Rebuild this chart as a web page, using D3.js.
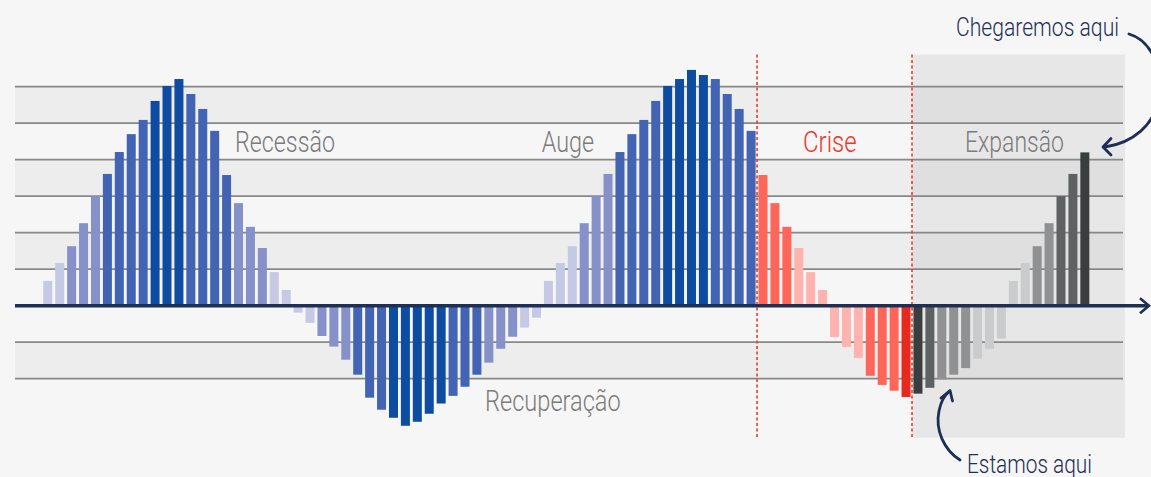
<!DOCTYPE html>
<html><head><meta charset="utf-8">
<script src="https://cdn.jsdelivr.net/npm/d3@7"></script>
<style>
html,body{margin:0;padding:0;background:#f6f6f6;}
svg{display:block;}
text{font-family:Roboto,"Open Sans",sans-serif;font-weight:300;}
</style></head>
<body>
<svg id="c" width="1151" height="477"></svg>
<script>
// ---- data ----
const values = [
  0.68,1.17,1.63,2.26,3.00,3.61,4.21,4.70,5.09,5.61,6.02,6.21,5.80,5.39,4.79,3.58,2.81,2.16,1.58,0.92,0.43,
  -0.19,-0.47,-0.83,-1.12,-1.48,-1.89,-2.52,-2.85,-3.07,-3.29,-3.18,-2.96,-2.68,-2.47,-2.22,-1.89,-1.56,-1.18,-0.85,-0.60,-0.33,
  0.68,1.17,1.63,2.26,3.00,3.61,4.21,4.70,5.09,5.61,6.02,6.21,6.46,6.32,6.21,5.80,5.39,4.79,
  3.58,2.81,2.16,1.58,0.92,0.43,-0.86,-1.13,-1.43,-1.92,-2.17,-2.33,-2.50,
  -2.41,-2.25,-2.02,-1.89,-1.71,-1.45,-1.18,-0.90,0.68,1.17,1.63,2.26,3.00,3.61,4.20
];
// tone level per bar: 0 pale, 1 mid, 2 normal, 3 dark
const tones = [
  0,0,1,1,1,2,2,2,2,3,3,3,2,2,2,2,1,1,1,0,0,
  0,0,1,1,1,2,2,2,3,3,3,3,3,2,2,2,1,1,1,0,0,
  0,0,0,1,1,1,2,2,2,2,3,3,3,3,2,2,2,2,
  2,2,2,0,0,0,0,0,0,2,2,2,3,
  3,2,1,1,1,0,0,0,0,0,1,1,2,2,3
];
// phase of each bar: first index of crisis, first index of expansion
const phaseStarts = [60, 73];
const gridTicks = [-2,-1,1,2,3,4,5,6];
const bandTicks = [[5,6],[3,4],[1,2],[-2,-1]];
const phaseLabels = [
  {text:"Recessão", v:4.22, x0:16.08, x1:24.47, color:"grey"},
  {text:"Auge", v:4.22, x0:41.81, x1:46.2, color:"grey"},
  {text:"Recuperação", v:-2.88, x0:37.06, x1:48.44, color:"grey"},
  {text:"Crise", v:4.22, x0:63.73, x1:68.24, color:"red"},
  {text:"Expansão", v:4.22, x0:77.32, x1:85.63, color:"grey"}
];

// ---- palettes ----
const palettes = {
  blue: ["#c5c9e6","#8591c8","#4364b2","#0d4ca1"],
  red:  ["#ffb3ae","#ff8a80","#ff665a","#e62a1e"],
  grey: ["#c9cbcc","#8f9192","#5f6263","#3b3e3f"]
};
const phaseOf = i => i < phaseStarts[0] ? "blue" : (i < phaseStarts[1] ? "red" : "grey");

const svg = d3.select("#c");
const idx = d3.range(values.length);
const step = 11.92, pad = 0.245;
const x = d3.scaleBand().domain(idx).range([43.3 - step*pad/2, 43.3 - step*pad/2 + step*values.length])
  .paddingInner(pad).paddingOuter(pad/2);
const y = d3.scaleLinear().domain([-4, 7]).range([305.7 + 4*36.5, 305.7 - 7*36.5]);
// continuous index scale for labels/positions
const xi = d3.scaleLinear().domain([0, 1]).range([x(0), x(1)]);

const left = 15, right = 1123;

// alternating bands
svg.append("g").selectAll("rect").data(bandTicks).join("rect")
  .attr("x", left).attr("width", right-left)
  .attr("y", d => y(d[1])).attr("height", d => y(d[0]) - y(d[1]))
  .attr("fill", "#000").attr("fill-opacity", 0.035);

// expansion shaded region
const shadeX0 = (x(phaseStarts[1]-1) + x.bandwidth() + x(phaseStarts[1]))/2;
svg.append("rect").attr("x", shadeX0).attr("y", y(6.88))
  .attr("width", 1125 - shadeX0).attr("height", y(-3.62) - y(6.88))
  .attr("fill", "#000").attr("fill-opacity", 0.06);

// gridlines
svg.append("g").selectAll("line").data(gridTicks).join("line")
  .attr("x1", left).attr("x2", right)
  .attr("y1", d => y(d)).attr("y2", d => y(d))
  .attr("stroke", "#888").attr("stroke-width", 1.7);

// bars
svg.append("g").selectAll("rect").data(values).join("rect")
  .attr("x", (d,i) => x(i)).attr("width", x.bandwidth())
  .attr("y", d => d >= 0 ? y(d) : y(0))
  .attr("height", d => Math.abs(y(d) - y(0)))
  .attr("fill", (d,i) => palettes[phaseOf(i)][tones[i]]);

// red dotted dividers
const divX = phaseStarts.map(s => (x(s-1) + x.bandwidth() + x(s))/2);
svg.append("g").selectAll("line").data(divX).join("line")
  .attr("x1", d => d).attr("x2", d => d)
  .attr("y1", y(6.88)).attr("y2", y(-3.62))
  .attr("stroke", "#ea3a2e").attr("stroke-width", 1.6).attr("stroke-dasharray", "3,2.5");

// zero axis with arrow
const navy = "#1d2f55";
svg.append("line").attr("x1", left).attr("x2", 1148).attr("y1", y(0)).attr("y2", y(0))
  .attr("stroke", navy).attr("stroke-width", 3.4);
svg.append("path").attr("d", `M1140,${y(0)-7.5} L1149,${y(0)} L1140,${y(0)+7.5}`)
  .attr("fill","none").attr("stroke", navy).attr("stroke-width", 2.6).attr("stroke-linejoin","miter");

// phase labels
svg.append("g").selectAll("text").data(phaseLabels).join("text")
  .attr("x", d => xi(d.x0)).attr("y", d => y(d.v))
  .attr("textLength", d => xi(d.x1) - xi(d.x0)).attr("lengthAdjust", "spacingAndGlyphs")
  .attr("font-size", 29)
  .attr("fill", d => d.color === "red" ? "#e8392d" : "#7b7b7b")
  .text(d => d.text);

// annotations
svg.append("text").attr("x", 956).attr("y", 36).attr("font-size", 25)
  .attr("textLength", 163).attr("lengthAdjust","spacingAndGlyphs")
  .attr("fill", navy).text("Chegaremos aqui");
svg.append("text").attr("x", 967).attr("y", 473).attr("font-size", 25.5)
  .attr("textLength", 125).attr("lengthAdjust","spacingAndGlyphs")
  .attr("fill", navy).text("Estamos aqui");

const arrowStyle = sel => sel.attr("fill","none").attr("stroke", navy).attr("stroke-width", 2.8).attr("stroke-linecap","round").attr("stroke-linejoin","round");
svg.append("path").attr("d","M1129,34 C1150,40 1164,68 1160,95 C1155,126 1132,143 1105,147").call(arrowStyle);
svg.append("path").attr("d","M1111,138.5 L1103,147 L1111,155").call(arrowStyle);
svg.append("path").attr("d","M960,460 C944,450 935,430 939,411 C941,401 945,395 949,392").call(arrowStyle);
svg.append("path").attr("d","M941,398 L950,390.5 L952.5,401").call(arrowStyle);
</script>
</body></html>
